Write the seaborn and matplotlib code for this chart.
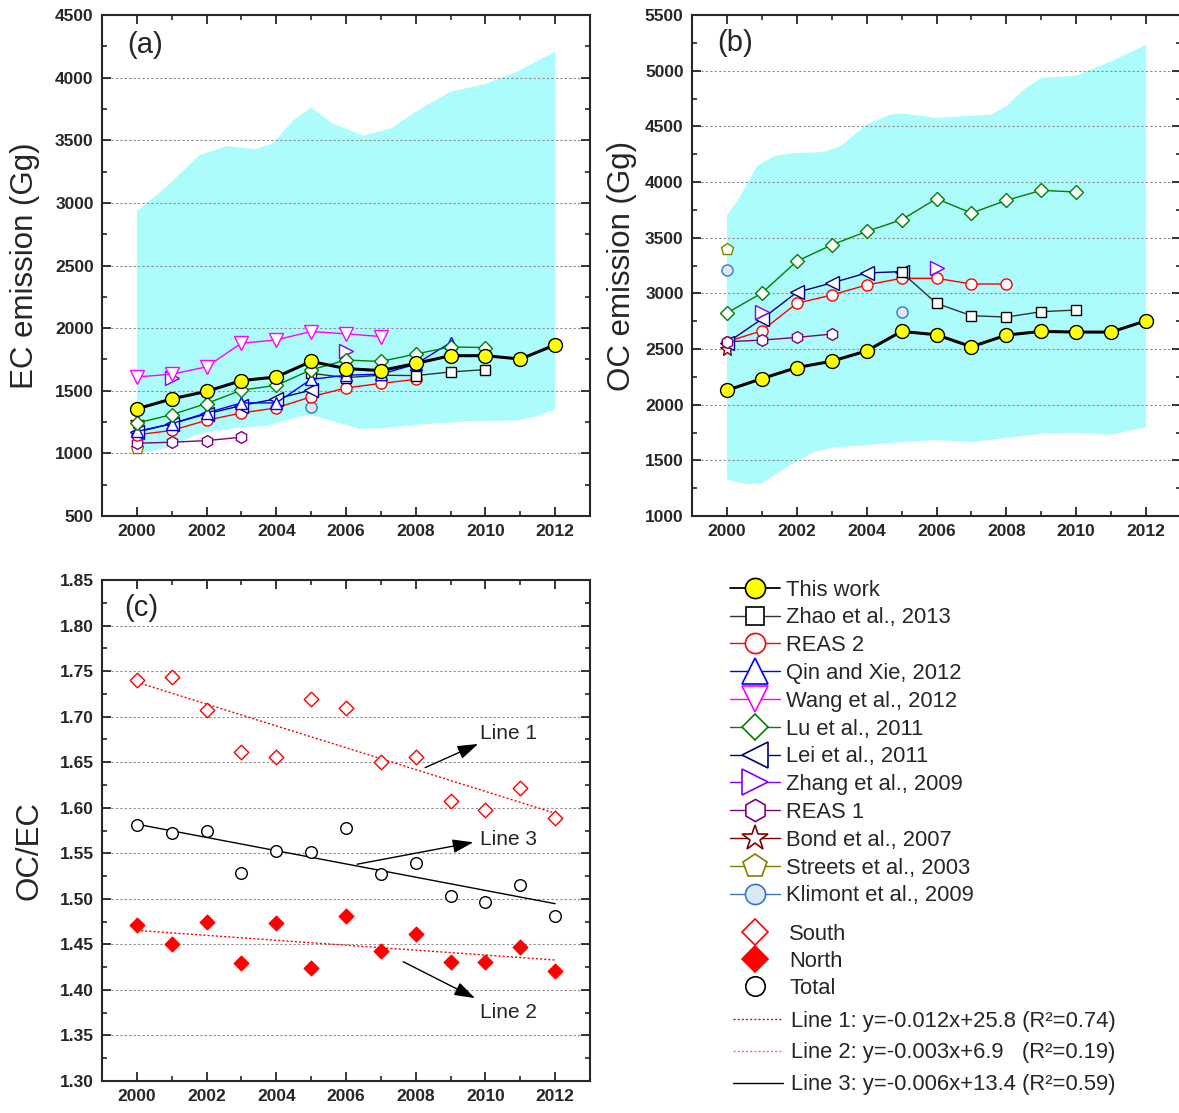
import numpy as np
import pandas as pd
import matplotlib
matplotlib.use('Agg')
import matplotlib.pyplot as plt
import seaborn as sns
from matplotlib.lines import Line2D
from matplotlib.ticker import MultipleLocator, FormatStrFormatter

# ---------------------------------------------------------------- data
years = list(range(2000, 2013))

this_ec = [1355, 1435, 1495, 1581, 1610, 1734, 1677, 1661, 1718, 1780, 1780, 1753, 1866]
this_oc = [2129, 2234, 2333, 2390, 2483, 2658, 2628, 2520, 2625, 2658, 2652, 2652, 2754]

zhao_years = [2005, 2006, 2007, 2008, 2009, 2010]
zhao_ec = [1640, 1605, 1624, 1621, 1650, 1669]
zhao_oc = [3189, 2910, 2799, 2787, 2835, 2850]

reas2_years = [2000, 2001, 2002, 2003, 2004, 2005, 2006, 2007, 2008]
reas2_ec = [1148, 1183, 1264, 1323, 1363, 1452, 1522, 1559, 1591]
reas2_oc = [2565, 2664, 2910, 2985, 3075, 3135, 3135, 3084, 3084]

qin_years = [2000, 2001, 2002, 2003, 2004, 2005, 2006, 2007, 2008, 2009]
qin_ec = [1175, 1237, 1323, 1403, 1403, 1591, 1624, 1632, 1712, 1885]

wang_years = [2000, 2001, 2002, 2003, 2004, 2005, 2006, 2007]
wang_ec = [1610, 1632, 1691, 1879, 1906, 1973, 1954, 1933]

lu_years = [2000, 2001, 2002, 2003, 2004, 2005, 2006, 2007, 2008, 2009, 2010]
lu_ec = [1242, 1309, 1398, 1505, 1543, 1667, 1745, 1734, 1793, 1850, 1845]
lu_oc = [2823, 3003, 3288, 3435, 3556, 3661, 3850, 3721, 3835, 3925, 3910]

lei_years = [2000, 2001, 2002, 2003, 2004, 2005]
lei_ec = [1170, 1237, 1315, 1382, 1436, 1505]
lei_oc = [2555, 2769, 3009, 3093, 3183, 3195]

zhang_years = [2001, 2006]
zhang_ec = [1600, 1820]
zhang_oc = [2835, 3228]

reas1_years = [2000, 2001, 2002, 2003]
reas1_ec = [1081, 1089, 1102, 1129]
reas1_oc = [2565, 2580, 2604, 2634]

bond_years = [2000]
bond_ec = [1247]
bond_oc = [2498]

streets_years = [2000]
streets_ec = [1040]
streets_oc = [3399]

klimont_ec_years = [2005]
klimont_ec = [1368]
klimont_oc_years = [2000, 2005]
klimont_oc = [3213, 2829]

# range band (upper / lower edges)
band_a_up_x = [2000, 2000.85, 2001.8, 2002.6, 2003.4, 2003.9, 2004.5, 2005.0, 2005.6, 2006.5, 2007.3, 2008.0, 2009.0, 2010.0, 2010.9, 2012.0]
band_a_up = [2935, 3129, 3382, 3454, 3428, 3476, 3662, 3761, 3636, 3537, 3595, 3729, 3888, 3949, 4047, 4207]
band_a_lo_x = [2000, 2000.86, 2001.82, 2002.78, 2003.73, 2004.69, 2004.98, 2005.65, 2006.41, 2007.08, 2008.04, 2009.47, 2010.91, 2011.39, 2012.0]
band_a_lo = [1000, 1043, 1162, 1202, 1221, 1296, 1309, 1255, 1194, 1202, 1229, 1255, 1263, 1290, 1350]

band_b_up_x = [2000, 2000.33, 2000.86, 2001.34, 2001.81, 2002.77, 2003.25, 2004.0, 2004.68, 2005.0, 2006.0, 2007.56, 2008.0, 2008.5, 2009.0, 2010.0, 2011.0, 2012.0]
band_b_up = [3700, 3845, 4143, 4233, 4257, 4269, 4322, 4516, 4606, 4615, 4576, 4606, 4681, 4830, 4934, 4955, 5084, 5233]
band_b_lo_x = [2000, 2000.55, 2001, 2002, 2002.5, 2003, 2004, 2005, 2006, 2007, 2008, 2009, 2010, 2011, 2012]
band_b_lo = [1330, 1286, 1295, 1494, 1574, 1613, 1637, 1664, 1682, 1664, 1702, 1738, 1747, 1729, 1798]

# OC/EC ratio
south = [1.740, 1.743, 1.707, 1.661, 1.656, 1.719, 1.709, 1.650, 1.656, 1.607, 1.597, 1.622, 1.589]
north = [1.471, 1.450, 1.475, 1.430, 1.473, 1.424, 1.481, 1.443, 1.461, 1.431, 1.431, 1.447, 1.421]
total = [1.581, 1.572, 1.574, 1.528, 1.553, 1.551, 1.578, 1.527, 1.539, 1.503, 1.496, 1.515, 1.481]

series_names = ['This work', 'Zhao et al., 2013', 'REAS 2', 'Qin and Xie, 2012', 'Wang et al., 2012',
                'Lu et al., 2011', 'Lei et al., 2011', 'Zhang et al., 2009', 'REAS 1',
                'Bond et al., 2007', 'Streets et al., 2003', 'Klimont et al., 2009']
fit_labels = ['Line 1: y=-0.012x+25.8 (R\u00b2=0.74)',
              'Line 2: y=-0.003x+6.9   (R\u00b2=0.19)',
              'Line 3: y=-0.006x+13.4 (R\u00b2=0.59)']

# ---------------------------------------------------------------- styles
styles = {
    'This work': dict(marker='o', ms=10, mfc='#ffff00', mec='black', color='black', lw=2.2),
    'Zhao et al., 2013': dict(marker='s', ms=7.5, mfc='white', mec='black', color='#333333', lw=1),
    'REAS 2': dict(marker='o', ms=8, mfc='white', mec='red', color='red', lw=1),
    'Qin and Xie, 2012': dict(marker='^', ms=8.5, mfc='white', mec='#0000ff', color='#0000ff', lw=1),
    'Wang et al., 2012': dict(marker='v', ms=9.5, mfc='white', mec='#ff00ff', color='#ff00ff', lw=1),
    'Lu et al., 2011': dict(marker='D', ms=7.3, mfc='white', mec='#008000', color='#008000', lw=1),
    'Lei et al., 2011': dict(marker='<', ms=9.5, mfc='white', mec='#000080', color='#000080', lw=1),
    'Zhang et al., 2009': dict(marker='>', ms=9.5, mfc='white', mec='#8000ff', color='#8000ff', lw=1),
    'REAS 1': dict(marker='h', ms=8.5, mfc='white', mec='#800080', color='#800080', lw=1),
    'Bond et al., 2007': dict(marker='*', ms=11, mfc='white', mec='#800000', color='#800000', lw=1),
    'Streets et al., 2003': dict(marker='p', ms=9, mfc='white', mec='#808000', color='#808000', lw=1),
    'Klimont et al., 2009': dict(marker='o', ms=8, mfc='#dbe8f6', mec='#3a75c4', color='#3a75c4', lw=1),
}
legend_ms = {'o': 14.5, 's': 13, '^': 19, 'v': 19, 'D': 13.5, '<': 19, '>': 19,
             'h': 16, '*': 19, 'p': 18}

sns.set_style('ticks')
plt.rcParams['font.family'] = ['Liberation Sans', 'DejaVu Sans']
plt.rcParams['axes.linewidth'] = 1.5

fig = plt.figure(figsize=(11.79, 11.13), dpi=100)
ax_a = fig.add_axes([102 / 1179, 1 - 516 / 1113, 488 / 1179, 501 / 1113])
ax_b = fig.add_axes([692 / 1179, 1 - 516 / 1113, 489 / 1179, 501 / 1113])
ax_c = fig.add_axes([102 / 1179, 1 - 1081 / 1113, 488 / 1179, 501 / 1113])

band_color = '#adfcfc'


def draw(ax, xs, ys, name, z):
    st = styles[name]
    sns.lineplot(x=xs, y=ys, ax=ax, color=st['color'], linewidth=st['lw'], marker=st['marker'],
                 markersize=st['ms'], markerfacecolor=st['mfc'], markeredgecolor=st['mec'],
                 markeredgewidth=1.0, zorder=z, estimator=None)


def draw_points(ax, xs, ys, name, z):
    st = styles[name]
    ax.plot(xs, ys, linestyle='none', marker=st['marker'], markersize=st['ms'],
            markerfacecolor=st['mfc'], markeredgecolor=st['mec'], markeredgewidth=1.0, zorder=z)


def style_axis(ax, ymaj, ymin, fmt):
    ax.set_xlim(1999, 2013)
    ax.xaxis.set_major_locator(MultipleLocator(2))
    ax.xaxis.set_minor_locator(MultipleLocator(1))
    ax.yaxis.set_major_locator(MultipleLocator(ymaj))
    ax.yaxis.set_minor_locator(MultipleLocator(ymin))
    ax.yaxis.set_major_formatter(FormatStrFormatter(fmt))
    ax.tick_params(which='major', direction='in', length=6.5, width=1.3, top=True, right=True,
                   labelsize=12.5, pad=6)
    ax.tick_params(which='minor', direction='in', length=3.5, width=1.2, top=True, right=True)
    for lab in ax.get_xticklabels() + ax.get_yticklabels():
        lab.set_fontweight('bold')
    ax.set_axisbelow('line')
    ax.yaxis.grid(True, which='major', color='#8c8c8c', linestyle=(0, (2, 2)), linewidth=0.8)
    ax.xaxis.grid(False)
    for sp in ax.spines.values():
        sp.set_linewidth(1.5)
    ax.set_xlabel('')


# ---------------------------------------------------------------- (a)
ax = ax_a
ax.fill(band_a_up_x + band_a_lo_x[::-1], band_a_up + band_a_lo[::-1], color=band_color, lw=0, zorder=1)
draw(ax, streets_years, streets_ec, 'Streets et al., 2003', 3)
draw(ax, bond_years, bond_ec, 'Bond et al., 2007', 3)
draw(ax, reas1_years, reas1_ec, 'REAS 1', 3)
draw_points(ax, zhang_years, zhang_ec, 'Zhang et al., 2009', 3)
draw_points(ax, klimont_ec_years, klimont_ec, 'Klimont et al., 2009', 3)
draw(ax, reas2_years, reas2_ec, 'REAS 2', 3)
draw(ax, zhao_years, zhao_ec, 'Zhao et al., 2013', 3)
draw(ax, lei_years, lei_ec, 'Lei et al., 2011', 3)
draw(ax, qin_years, qin_ec, 'Qin and Xie, 2012', 3)
draw(ax, lu_years, lu_ec, 'Lu et al., 2011', 3)
draw(ax, wang_years, wang_ec, 'Wang et al., 2012', 3)
draw(ax, years, this_ec, 'This work', 5)
ax.set_ylim(500, 4500)
style_axis(ax, 500, 250, '%d')
ax.set_ylabel('EC emission (Gg)', fontsize=22.5)
ax.yaxis.set_label_coords(-0.127, 0.5)
ax.text(0.051, 0.94, '(a)', transform=ax.transAxes, fontsize=21, ha='left', va='center')

# ---------------------------------------------------------------- (b)
ax = ax_b
ax.fill(band_b_up_x + band_b_lo_x[::-1], band_b_up + band_b_lo[::-1], color=band_color, lw=0, zorder=1)
draw(ax, streets_years, streets_oc, 'Streets et al., 2003', 3)
draw_points(ax, klimont_oc_years, klimont_oc, 'Klimont et al., 2009', 3)
draw(ax, bond_years, bond_oc, 'Bond et al., 2007', 3)
draw(ax, reas2_years, reas2_oc, 'REAS 2', 3)
draw(ax, lei_years, lei_oc, 'Lei et al., 2011', 3)
draw(ax, reas1_years, reas1_oc, 'REAS 1', 3)
draw_points(ax, zhang_years, zhang_oc, 'Zhang et al., 2009', 3)
draw(ax, zhao_years, zhao_oc, 'Zhao et al., 2013', 3)
draw(ax, lu_years, lu_oc, 'Lu et al., 2011', 3)
draw(ax, years, this_oc, 'This work', 5)
ax.set_ylim(1000, 5500)
style_axis(ax, 500, 250, '%d')
ax.set_ylabel('OC emission (Gg)', fontsize=22.5)
ax.yaxis.set_label_coords(-0.112, 0.5)
ax.text(0.051, 0.945, '(b)', transform=ax.transAxes, fontsize=21, ha='left', va='center')

# ---------------------------------------------------------------- (c)
ax = ax_c
df_c = pd.DataFrame({'year': years, 'South': south, 'North': north, 'Total': total})
sns.regplot(data=df_c, x='year', y='South', ax=ax, scatter=False, ci=None, truncate=True,
            line_kws=dict(color='red', linestyle=(0, (1.5, 1.5)), linewidth=1))
sns.regplot(data=df_c, x='year', y='North', ax=ax, scatter=False, ci=None, truncate=True,
            line_kws=dict(color='red', linestyle=(0, (1.5, 1.5)), linewidth=1))
sns.regplot(data=df_c, x='year', y='Total', ax=ax, scatter=False, ci=None, truncate=True,
            line_kws=dict(color='black', linewidth=1))
sns.scatterplot(data=df_c, x='year', y='South', ax=ax, marker='D', s=55, facecolor='white',
                edgecolor='red', linewidth=1, zorder=4)
sns.scatterplot(data=df_c, x='year', y='North', ax=ax, marker='D', s=55, color='red',
                edgecolor='red', linewidth=1, zorder=4)
sns.scatterplot(data=df_c, x='year', y='Total', ax=ax, marker='o', s=70, facecolor='white',
                edgecolor='black', linewidth=1, zorder=4)
ax.set_ylim(1.30, 1.85)
style_axis(ax, 0.05, 0.025, '%.2f')
ax.set_ylabel('OC/EC', fontsize=22.5)
ax.yaxis.set_label_coords(-0.117, 0.459)
ax.text(0.046, 0.944, '(c)', transform=ax.transAxes, fontsize=21, ha='left', va='center')

arrow_kw = dict(arrowstyle='-|>,head_length=0.9,head_width=0.3', color='black', lw=1,
                mutation_scale=14, shrinkA=0, shrinkB=0)
ax.annotate('', xy=(2009.79, 1.670), xytext=(2008.27, 1.644), arrowprops=arrow_kw)
ax.annotate('', xy=(2009.65, 1.562), xytext=(2006.32, 1.538), arrowprops=arrow_kw)
ax.annotate('', xy=(2009.70, 1.391), xytext=(2007.64, 1.431), arrowprops=arrow_kw)
ax.text(2009.85, 1.682, 'Line 1', fontsize=15, ha='left', va='center')
ax.text(2009.85, 1.565, 'Line 3', fontsize=15, ha='left', va='center')
ax.text(2009.85, 1.375, 'Line 2', fontsize=15, ha='left', va='center')

# ---------------------------------------------------------------- legends
handles = []
for name in series_names:
    st = styles[name]
    handles.append(Line2D([], [], color=st['color'], lw=1.3 if name == 'This work' else 1,
                          marker=st['marker'], markersize=legend_ms[st['marker']],
                          markerfacecolor=st['mfc'], markeredgecolor=st['mec'], markeredgewidth=1.2))
leg1 = fig.legend(handles, series_names, loc='upper left', bbox_to_anchor=(730 / 1179, 1 - 579.5 / 1113),
                  frameon=False, fontsize=15.8, handlelength=2.3, handletextpad=0.25,
                  labelspacing=0.31, borderpad=0, borderaxespad=0, numpoints=1)

handles2 = [Line2D([], [], ls='none', marker='D', ms=13, mfc='white', mec='red', mew=1.2),
            Line2D([], [], ls='none', marker='D', ms=13, mfc='red', mec='red', mew=1.2),
            Line2D([], [], ls='none', marker='o', ms=14, mfc='white', mec='black', mew=1.2)]
leg2 = fig.legend(handles2, ['South', 'North', 'Total'], loc='upper left',
                  bbox_to_anchor=(730 / 1179, 1 - 923.5 / 1113), frameon=False, fontsize=15.8,
                  handlelength=2.3, handletextpad=0.4, labelspacing=0.28, borderpad=0,
                  borderaxespad=0, numpoints=1)

handles3 = [Line2D([], [], color='red', lw=1, ls=(0, (1.5, 1.5))),
            Line2D([], [], color='#ff6666', lw=1, ls=(0, (1.5, 1.5))),
            Line2D([], [], color='black', lw=1)]
leg3 = fig.legend(handles3, fit_labels, loc='upper left',
                  bbox_to_anchor=(733 / 1179, 1 - 1010.5 / 1113), frameon=False, fontsize=15.8,
                  handlelength=2.3, handletextpad=0.35, labelspacing=0.5, borderpad=0,
                  borderaxespad=0)

fig.savefig('out.png', dpi=100)
